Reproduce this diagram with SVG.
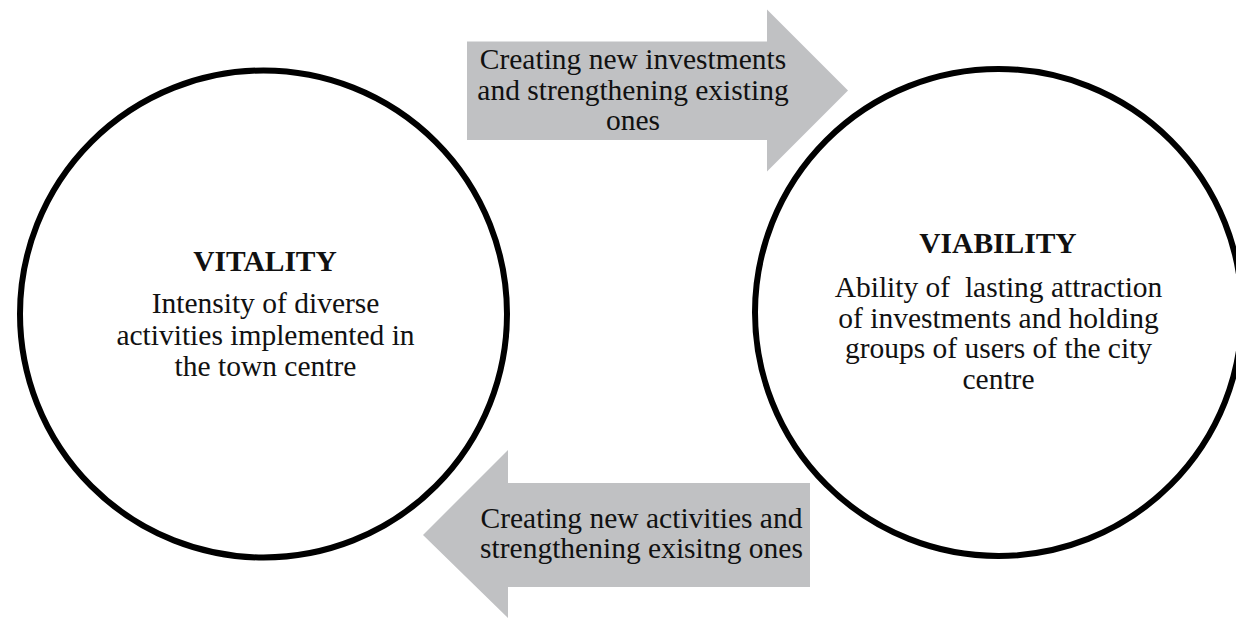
<svg xmlns="http://www.w3.org/2000/svg" width="1236" height="618" viewBox="0 0 1236 618">
<style>
.circ{fill:#fff;stroke:#000;stroke-width:6}
.arrow{fill:#c0c1c3;stroke:none}
.t{font-family:"Liberation Serif","Times New Roman",serif;font-size:29.5px;fill:#111;text-anchor:middle;white-space:pre}
.b{font-weight:bold}
</style>
<rect width="1236" height="618" fill="#fff"/>
<g id="vitality">
<circle class="circ" cx="263.5" cy="314" r="243.5"/>
<text class="t b" x="265" y="270.5">VITALITY</text>
<text class="t" x="265.5" y="313">Intensity of diverse</text>
<text class="t" x="265.5" y="344.5">activities implemented in</text>
<text class="t" x="265.5" y="375.5">the town centre</text>
</g>
<g id="viability">
<circle class="circ" cx="998.5" cy="312.5" r="243.5"/>
<text class="t b" x="998" y="253">VIABILITY</text>
<text class="t" x="998.5" y="296.5">Ability of  lasting attraction</text>
<text class="t" x="998.5" y="327.5">of investments and holding</text>
<text class="t" x="998.5" y="358">groups of users of the city</text>
<text class="t" x="998.5" y="388.5">centre</text>
</g>
<g id="connectors">
<g id="arrow-investments">
<polygon class="arrow" points="467,41.5 767,41.5 767,9.5 848,90.5 767,171.5 767,140 467,140"/>
<text class="t" x="633" y="68.5">Creating new investments</text>
<text class="t" x="633" y="100">and strengthening existing</text>
<text class="t" x="633" y="130">ones</text>
</g>
<g id="arrow-activities">
<polygon class="arrow" points="810,483 508,483 508,450 423,535 508,618 508,587 810,587"/>
<text class="t" x="641.5" y="528">Creating new activities and</text>
<text class="t" x="641.5" y="558">strengthening exisitng ones</text>
</g>
</g>
</svg>
